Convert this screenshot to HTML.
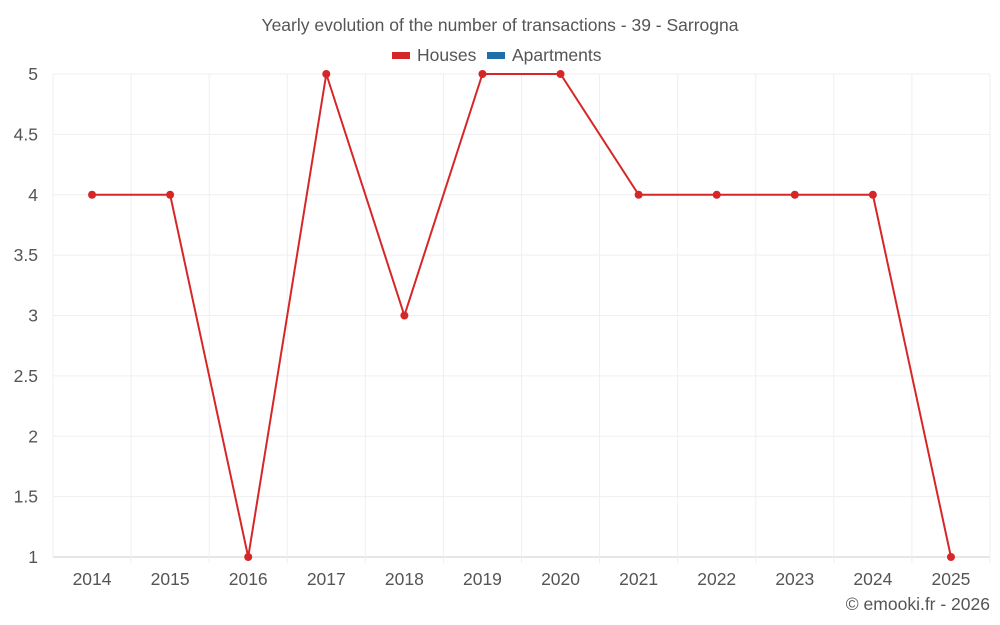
<!DOCTYPE html>
<html><head><meta charset="utf-8"><style>
body{margin:0;background:#fff;}
svg{display:block;font-family:"Liberation Sans",sans-serif;}
</style></head><body>
<svg id="chart" width="1000" height="625">
<text x="500" y="31" text-anchor="middle" font-size="17.5" fill="#555">Yearly evolution of the number of transactions - 39 - Sarrogna</text>
<g>
<g><rect x="392" y="52" width="18" height="7" fill="#d62728"/><text x="417" y="61" font-size="17.5" fill="#555">Houses</text></g>
<g><rect x="487" y="52" width="18" height="7" fill="#1f6fa8"/><text x="512" y="61" font-size="17.5" fill="#555">Apartments</text></g>
</g>
<g id="grid"></g><g id="axes"></g><g id="series"></g>
<text x="990" y="610" text-anchor="end" font-size="17.5" fill="#555">© emooki.fr - 2026</text>
</svg>
<script>
const years=["2014","2015","2016","2017","2018","2019","2020","2021","2022","2023","2024","2025"];
const houses=[4,4,1,5,3,5,5,4,4,4,4,1];
const yTicks=[1,1.5,2,2.5,3,3.5,4,4.5,5];
const NS="http://www.w3.org/2000/svg";
const L=53,R=990,T=74,B=557,yMin=1,yMax=5;
const bw=(R-L)/years.length;
const xs=i=>L+bw*(i+0.5);
const ys=v=>B-(v-yMin)/(yMax-yMin)*(B-T);
function mk(tag,attrs,parent){const e=document.createElementNS(NS,tag);for(const k in attrs)e.setAttribute(k,attrs[k]);document.getElementById(parent).appendChild(e);return e;}
yTicks.forEach(v=>{
 const g=mk("line",{x1:L,x2:R,y1:ys(v),y2:ys(v),stroke:v===yMin?"#ccc":"#efefef","stroke-width":1},"grid");
 
 
 const t=mk("text",{x:38,y:ys(v)+6,"text-anchor":"end","font-size":17.5,fill:"#555"},"axes");
 t.textContent=String(v);
 
 
});
for(let i=0;i<=years.length;i++){
 const x=L+bw*i;
 const g=mk("line",{x1:x,x2:x,y1:T,y2:B+(i>0?6:0),stroke:"#efefef","stroke-width":1},"grid");
 
 
}
years.forEach((y,i)=>{
 const t=mk("text",{x:xs(i),y:585,"text-anchor":"middle","font-size":17.5,fill:"#555"},"axes");
 t.textContent=y;
 
 
});
const p=mk("polyline",{points:houses.map((v,i)=>xs(i)+","+ys(v)).join(" "),fill:"none",stroke:"#d62728","stroke-width":2},"series");


houses.forEach((v,i)=>{
 const c=mk("circle",{cx:xs(i),cy:ys(v),r:4,fill:"#d62728"},"series");
 
 
});
</script>
</body></html>
